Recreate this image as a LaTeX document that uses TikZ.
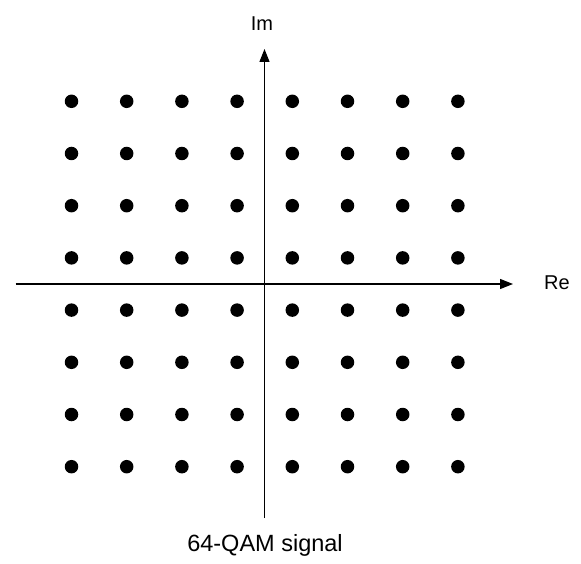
\documentclass[tikz,border=0pt]{standalone}
\usepackage{fontspec}
\setmainfont{Liberation Sans}
\usetikzlibrary{arrows.meta}
\begin{document}
\begin{tikzpicture}[x=1pt,y=1pt,
  axis/.style={line width=1.2pt,-{Triangle[length=13pt,width=10pt]}},
  qdot/.style={circle,fill=black,inner sep=0pt,minimum size=13.5pt},
  lbl/.style={font=\fontsize{20}{24}\selectfont,inner sep=0pt}]
\useasboundingbox (0,0) rectangle (581,563);
\coordinate (xl) at (15.5,279);
\coordinate (xr) at (513,279);
\coordinate (yb) at (264.5,45);
\coordinate (yt) at (264.5,514);
\draw[axis] (xl) -- (xr);
\draw[axis] (yb) -- (yt);
\foreach \i in {0,...,7}{
  \foreach \j in {0,...,7}{
    \node[qdot] (d\i\j) at ({71.5+55.2*\i},{563-101.3-52.2*\j}) {};
  }
}
\node[lbl] (im) at (262,539) {Im};
\node[lbl] (re) at (557,280) {Re};
\node[lbl,font=\fontsize{23.5}{28}\selectfont] (cap) at (265,17.5) {64-QAM signal};
\end{tikzpicture}
\end{document}
